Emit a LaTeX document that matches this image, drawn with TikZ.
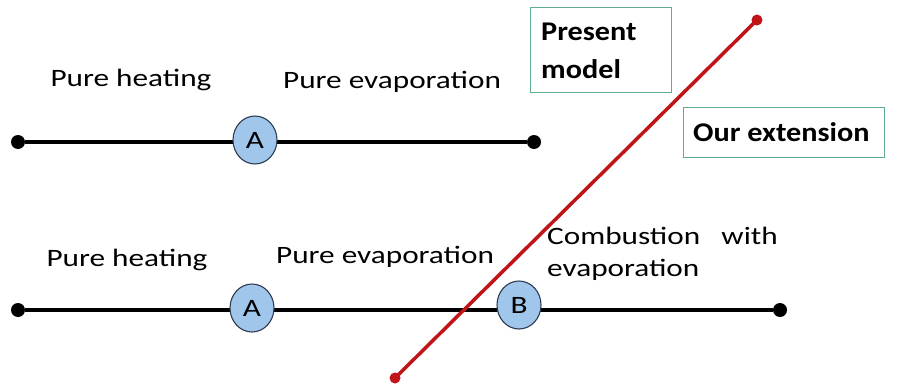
\documentclass[tikz,border=0pt]{standalone}
\usepackage{fontspec}
\usepackage{graphicx}
\setmainfont{Carlito}
\definecolor{ellfill}{RGB}{160,198,235}
\definecolor{ellline}{RGB}{45,60,80}
\definecolor{redline}{RGB}{192,20,25}
\definecolor{boxline}{RGB}{95,175,140}
\newcommand{\wt}[1]{\scalebox{1.25}[1]{#1}}
\newcommand{\wb}[1]{\scalebox{1.12}[1]{#1}}
\tikzset{
  dotb/.style={circle,fill=black,inner sep=0pt,minimum size=14pt},
  dotr/.style={circle,fill=redline,inner sep=0pt,minimum size=11pt},
  ell/.style={ellipse,draw=ellline,line width=1.1pt,fill=ellfill,minimum width=44pt,minimum height=48pt,inner sep=0pt,font=\fontsize{25}{26}\selectfont},
  lbl/.style={inner sep=0pt,font=\fontsize{25}{30}\selectfont},
  bl/.style={inner sep=0pt,anchor=west,font=\bfseries\fontsize{27}{32}\selectfont},
  blk/.style={line width=3.2pt,black},
}
\usetikzlibrary{shapes.geometric}
\begin{document}
\begin{tikzpicture}[x=1pt,y=-1pt]
\useasboundingbox (0,0) rectangle (901,385);
% top line
\node[dotb] (t1) at (18,142) {};
\node[dotb] (t2) at (534,142) {};
\draw[blk] (t1) -- (t2);
\node[ell] (tA) at (255,140) {\wt{A}};
% bottom line
\node[dotb] (b1) at (18,310) {};
\node[dotb] (b2) at (780,310) {};
\draw[blk] (b1) -- (b2);
\node[ell] (bA) at (252,308) {\wt{A}};
% red line
\node[dotr] (r1) at (395,378) {};
\node[dotr] (r2) at (757,20) {};
\draw[redline,line width=3.5pt] (r1.center) -- (r2.center);
\node[ell] (bB) at (519,305) {\wt{B}};
% labels
\node[lbl] (l1) at (131,80) {\wt{Pure heating}};
\node[lbl] (l2) at (392,82) {\wt{Pure evaporation}};
\node[lbl] (l3) at (127,260) {\wt{Pure heating}};
\node[lbl] (l4) at (385,257) {\wt{Pure evaporation}};
\node[lbl,anchor=west] (l5) at (547,236) {\wt{Combustion}};
\node[lbl,anchor=east] (l6) at (778,236) {\wt{with}};
\node[lbl,anchor=west] (l7) at (547,270) {\wt{evaporation}};
% boxes
\draw[boxline,line width=1pt] (530,8) rectangle (671,93);
\node[bl] (p1) at (541,32) {\wb{Present}};
\node[bl] (p2) at (541,69) {\wb{model}};
\draw[boxline,line width=1pt] (683,108) rectangle (884,157);
\node[bl] (oe) at (693,132) {\wb{Our extension}};
\end{tikzpicture}
\end{document}
